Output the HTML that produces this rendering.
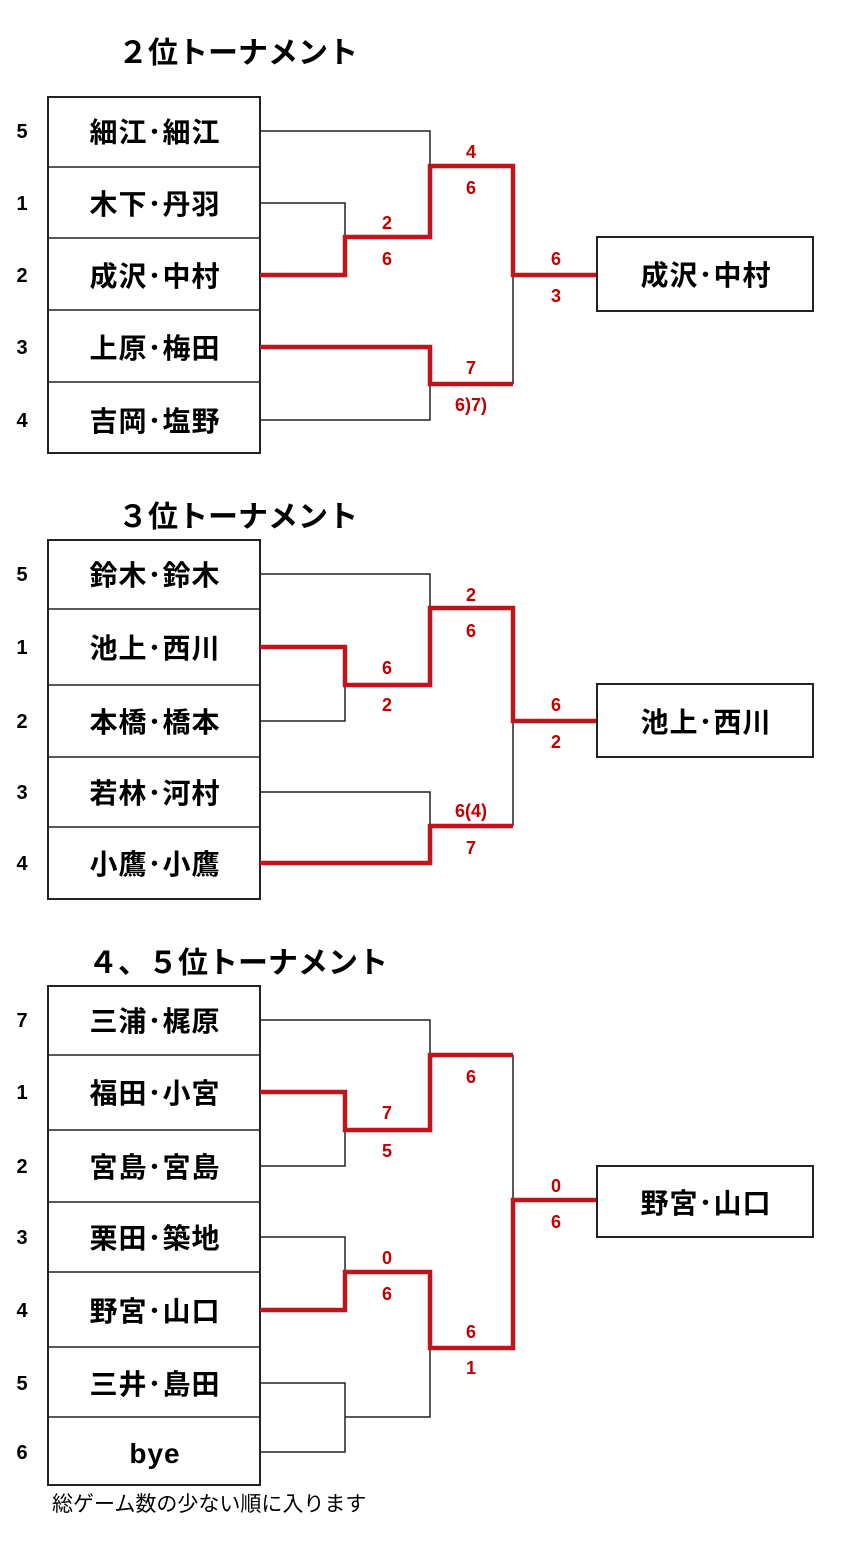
<!DOCTYPE html>
<html><head><meta charset="utf-8"><style>
html,body{margin:0;padding:0;background:#fff;}
svg{display:block}
text{font-family:"Liberation Sans","Noto Sans CJK JP",sans-serif;}
.t{font-size:30px;font-weight:bold;}
.n{font-size:28px;font-weight:bold;text-anchor:middle;letter-spacing:1px;}
.s{font-size:20px;font-weight:bold;text-anchor:middle;}
.r{font-size:18px;font-weight:bold;fill:#c00000;text-anchor:middle;}
.k{fill:none;stroke:#222;stroke-width:1.5;}
.red{fill:none;stroke:#c0161b;stroke-width:4.5;}
.b{fill:#fff;stroke:#222;stroke-width:2;}
</style></head><body>
<svg width="852" height="1543" viewBox="0 0 852 1543" xmlns="http://www.w3.org/2000/svg">
<!-- Section 1 -->
<text class="t" x="118" y="63">２位トーナメント</text>
<rect class="b" x="48" y="97" width="212" height="356"/>
<path class="k" d="M48 167H260M48 238H260M48 310H260M48 382H260"/>
<text class="s" x="22" y="138">5</text><text class="s" x="22" y="210">1</text><text class="s" x="22" y="282">2</text><text class="s" x="22" y="354">3</text><text class="s" x="22" y="427">4</text>
<text class="n" x="155" y="142">細江･細江</text><text class="n" x="155" y="214">木下･丹羽</text><text class="n" x="155" y="286">成沢･中村</text><text class="n" x="155" y="358">上原･梅田</text><text class="n" x="155" y="431">吉岡･塩野</text>
<path class="k" d="M260 131H430V237M260 203H345V237M513 275V384M260 420H430V384"/>
<path class="red" d="M260 275H345V237H430V166H513V275H597"/>
<path class="red" d="M260 347H430V384H513"/>
<rect class="b" x="597" y="237" width="216" height="74"/>
<text class="n" x="706" y="285">成沢･中村</text>
<text class="r" x="471" y="158">4</text><text class="r" x="471" y="194">6</text>
<text class="r" x="387" y="229">2</text><text class="r" x="387" y="265">6</text>
<text class="r" x="556" y="265">6</text><text class="r" x="556" y="302">3</text>
<text class="r" x="471" y="374">7</text><text class="r" x="471" y="411">6)7)</text>

<!-- Section 2 -->
<text class="t" x="118" y="527">３位トーナメント</text>
<rect class="b" x="48" y="540" width="212" height="359"/>
<path class="k" d="M48 609H260M48 685H260M48 757H260M48 827H260"/>
<text class="s" x="22" y="581">5</text><text class="s" x="22" y="654">1</text><text class="s" x="22" y="728">2</text><text class="s" x="22" y="799">3</text><text class="s" x="22" y="870">4</text>
<text class="n" x="155" y="585">鈴木･鈴木</text><text class="n" x="155" y="658">池上･西川</text><text class="n" x="155" y="732">本橋･橋本</text><text class="n" x="155" y="803">若林･河村</text><text class="n" x="155" y="874">小鷹･小鷹</text>
<path class="k" d="M260 574H430V608M260 721H345V685M260 792H430V826M513 721V826"/>
<path class="red" d="M260 647H345V685H430V608H513V721H597"/>
<path class="red" d="M260 863H430V826H513"/>
<rect class="b" x="597" y="684" width="216" height="73"/>
<text class="n" x="706" y="732">池上･西川</text>
<text class="r" x="471" y="601">2</text><text class="r" x="471" y="637">6</text>
<text class="r" x="387" y="674">6</text><text class="r" x="387" y="711">2</text>
<text class="r" x="556" y="711">6</text><text class="r" x="556" y="748">2</text>
<text class="r" x="471" y="817">6(4)</text><text class="r" x="471" y="854">7</text>

<!-- Section 3 -->
<text class="t" x="88" y="973">４、５位トーナメント</text>
<rect class="b" x="48" y="986" width="212" height="499"/>
<path class="k" d="M48 1055H260M48 1130H260M48 1202H260M48 1272H260M48 1347H260M48 1417H260"/>
<text class="s" x="22" y="1027">7</text><text class="s" x="22" y="1099">1</text><text class="s" x="22" y="1173">2</text><text class="s" x="22" y="1244">3</text><text class="s" x="22" y="1317">4</text><text class="s" x="22" y="1390">5</text><text class="s" x="22" y="1459">6</text>
<text class="n" x="155" y="1031">三浦･梶原</text><text class="n" x="155" y="1103">福田･小宮</text><text class="n" x="155" y="1177">宮島･宮島</text><text class="n" x="155" y="1248">栗田･築地</text><text class="n" x="155" y="1321">野宮･山口</text><text class="n" x="155" y="1394">三井･島田</text><text class="n" x="155" y="1463">bye</text>
<path class="k" d="M260 1020H430V1055M260 1166H345V1130M513 1055V1200M260 1237H345V1272M260 1383H345V1452H260M345 1417H430V1348"/>
<path class="red" d="M260 1092H345V1130H430V1055H513"/>
<path class="red" d="M260 1310H345V1272H430V1348H513V1200H597"/>
<rect class="b" x="597" y="1166" width="216" height="71"/>
<text class="n" x="706" y="1213">野宮･山口</text>
<text class="r" x="471" y="1083">6</text>
<text class="r" x="387" y="1119">7</text><text class="r" x="387" y="1157">5</text>
<text class="r" x="387" y="1264">0</text><text class="r" x="387" y="1300">6</text>
<text class="r" x="471" y="1338">6</text><text class="r" x="471" y="1374">1</text>
<text class="r" x="556" y="1192">0</text><text class="r" x="556" y="1228">6</text>
<text x="52" y="1511" style="font-size:21px">総ゲーム数の少ない順に入ります</text>
</svg>
</body></html>
